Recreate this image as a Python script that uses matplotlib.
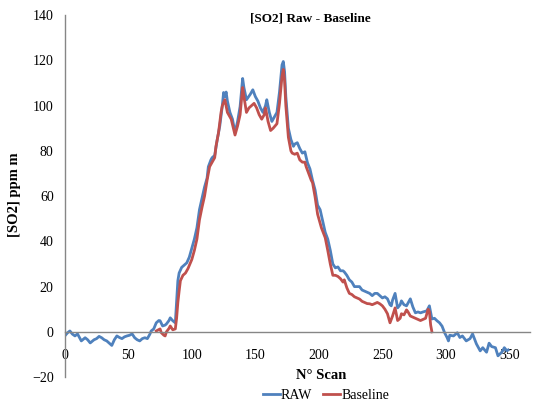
import numpy as np
import matplotlib
matplotlib.use('Agg')
import matplotlib.pyplot as plt

plt.rcParams['font.family'] = ['Liberation Serif', 'DejaVu Serif']

# RAW series (scan number, ppm m)
raw_scan = [0, 2, 4, 6, 8, 10, 13, 16, 18, 20, 23, 25, 27, 29, 31, 33, 35, 37, 39, 41,
            43, 45, 47, 49, 51, 53, 55, 57, 59, 61, 63, 65, 67, 68, 70, 72, 74, 75, 77, 79,
            80, 82, 83, 85, 87, 88, 89, 90, 92, 94, 96, 98, 100, 102, 104, 106, 108, 110, 112, 113,
            115, 116, 118, 120, 122, 124, 125, 126, 127, 128, 130, 132, 134, 136, 138, 140, 141, 143, 146, 148,
            150, 152, 154, 156, 158, 159, 161, 163, 165, 167, 169, 171, 172, 173, 174, 176, 178, 180, 181, 183,
            185, 187, 189, 191, 193, 195, 197, 199, 201, 203, 205, 207, 209, 211, 213, 215, 217, 219, 220, 222,
            224, 226, 228, 230, 232, 234, 236, 238, 240, 242, 244, 246, 248, 250, 252, 254, 256, 257, 258, 260,
            262, 264, 265, 267, 269, 270, 272, 274, 276, 278, 280, 282, 285, 287, 289, 291, 293, 295, 297, 299,
            301, 302, 303, 306, 309, 311, 313, 316, 319, 321, 324, 327, 329, 332, 334, 336, 339, 341, 344, 346,
            348, 349]
raw_val = [-1.8, -0.5, 0.4, -1, -1.8, -0.9, -4, -2.6, -3.5, -4.9, -3.5, -3, -2, -2.6, -3.5, -4, -5, -6, -3.5, -1.8,
           -2.5, -3, -2.2, -1.8, -1.5, -0.9, -2.6, -3.5, -4, -3, -2.6, -3, -1, 0.4, 1.3, 4, 5, 4.9, 2.6, 3,
           3.5, 5, 6.2, 4.9, 4, 13.7, 22.6, 26, 28.5, 29.5, 30.5, 33, 37, 41, 46, 54, 59, 64, 68, 73,
           76, 77, 78, 85, 91, 100, 105.8, 104, 106, 102, 97, 94, 88, 93, 99.6, 112, 108, 102.6, 105, 107,
           104, 102, 99, 97, 100, 102.6, 97, 93, 95, 97, 106, 118, 119.5, 115, 104, 90, 85, 82, 83, 83.6,
           81, 79, 79.6, 74.8, 72, 67, 62.8, 56, 54, 49, 44, 41, 36, 30, 28.3, 28.7, 27, 27, 26.5, 25,
           23, 22, 20, 20, 20, 18.5, 18, 17.5, 17, 16, 17, 17, 16, 15, 15.5, 14.6, 12, 11.5, 14, 17,
           10.6, 12, 13.7, 12, 11.5, 12.5, 14.6, 11, 8.4, 8.8, 8.4, 8.8, 9.3, 11.5, 5.7, 6, 4.9, 4, 2.5, -0.4,
           -2.6, -4, -1.5, -1.8, -0.4, -2.5, -1.8, -4, -3, -0.9, -5.3, -8.4, -7, -9, -5, -6.5, -7, -10.6, -9, -7,
           -8.4, -8]

# Baseline-corrected series
base_scan = [72, 74, 75, 76, 78, 79, 80, 82, 83, 85, 87, 88, 89, 90, 91, 93, 95, 97, 100, 102,
             104, 106, 108, 110, 112, 114, 116, 118, 119, 121, 123, 124, 126, 128, 131, 134, 136, 138, 140, 141,
             143, 145, 147, 149, 151, 153, 155, 157, 158, 160, 162, 164, 167, 169, 171, 172, 173, 174, 176, 178,
             179, 181, 183, 185, 187, 189, 190, 192, 194, 195, 197, 199, 200, 202, 205, 207, 209, 211, 213, 215,
             217, 219, 220, 222, 224, 226, 228, 230, 232, 234, 236, 238, 240, 242, 244, 246, 248, 250, 252, 254,
             256, 258, 260, 262, 264, 265, 267, 269, 270, 272, 274, 276, 278, 280, 282, 284, 286, 287, 288, 289]
base_val = [0.4, 1, 1.3, -0.4, -1.5, -1.8, 0, 1.5, 2.6, 0.9, 1.3, 6, 13, 18, 22.6, 25, 26, 28, 32, 36,
            41, 49.5, 55, 60, 67, 73, 75, 77, 82, 88, 97, 100, 102.6, 97, 94, 87, 91, 96, 108, 104,
            97, 99, 100, 101, 99, 96, 94, 96, 99, 93, 89, 90, 92, 101, 113, 116, 111, 100, 86, 80,
            79, 78.5, 79, 76, 75, 75, 73, 70, 67, 66, 59.7, 52, 50, 46, 41.6, 36, 30, 25, 25, 24.5,
            23.5, 22, 23, 19.5, 17, 16.5, 15.5, 15, 14.5, 13.5, 13, 12.5, 12.4, 12, 12.5, 13, 12.4, 11.5, 10, 8,
            4, 7, 10.6, 5, 6, 8, 7.5, 9.7, 9, 7, 6.5, 6, 5.5, 5, 5.5, 6, 10, 9, 3, 0]

fig = plt.figure(figsize=(5.4, 4.09), dpi=100)
ax = fig.add_axes([0.120, 0.078, 0.861, 0.885])

ax.plot(raw_scan, raw_val, color='#4F81BD', lw=2.0, label='RAW', solid_joinstyle='round')
ax.plot(base_scan, base_val, color='#C0504D', lw=2.0, label='Baseline', solid_joinstyle='round')

ax.set_xlim(0, 366)
ax.set_ylim(-20, 140)
ax.set_yticks(np.arange(-20, 141, 20))
ax.set_xticks(np.arange(0, 351, 50))

for s in ['top', 'right']:
    ax.spines[s].set_visible(False)
ax.spines['bottom'].set_position(('data', 0))
ax.spines['bottom'].set_color('#868686')
ax.spines['left'].set_color('#868686')
ax.spines['bottom'].set_linewidth(1.0)
ax.spines['left'].set_linewidth(1.0)
ax.tick_params(axis='y', length=0, pad=8, labelsize=10, colors='#000000')
ax.tick_params(axis='x', length=0, pad=12, labelsize=10)

fig.text(0.575, 0.955, '[SO2] Raw - Baseline', ha='center', va='center', fontsize=9.5, fontweight='bold')
fig.text(0.026, 0.523, '[SO2] ppm m', ha='center', va='center', rotation=90, fontsize=10.5, fontweight='bold')
fig.text(0.594, 0.083, 'N° Scan', ha='center', va='center', fontsize=10.5, fontweight='bold')

fig.legend(loc='center', bbox_to_anchor=(0.604, 0.033), ncol=2, frameon=False, fontsize=10,
           handlelength=1.2, handletextpad=0.1, columnspacing=0.8, borderaxespad=0)

fig.savefig('out.png', dpi=100)
